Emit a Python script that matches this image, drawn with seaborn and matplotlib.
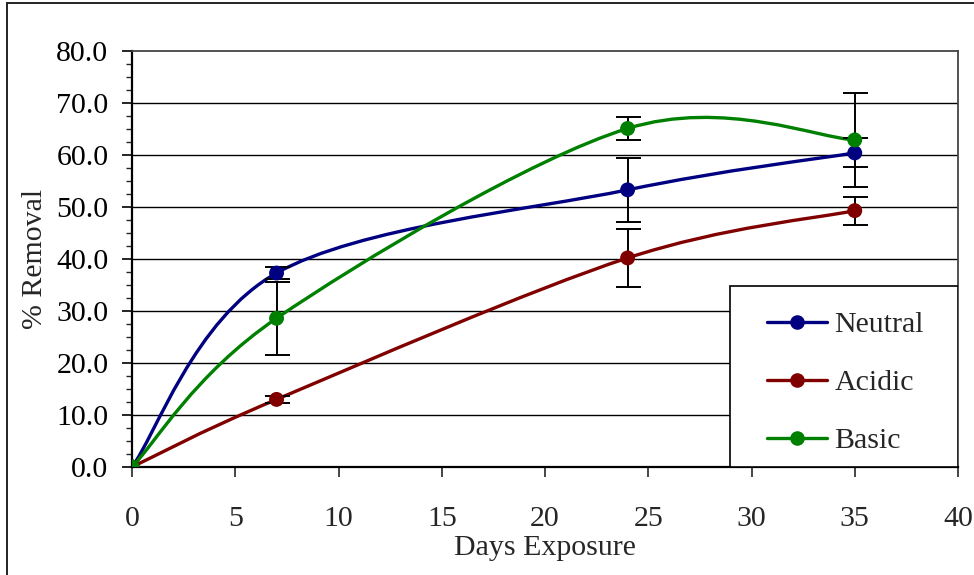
import matplotlib
matplotlib.use("Agg")
import matplotlib.pyplot as plt
from matplotlib.path import Path
from matplotlib.patches import PathPatch, Rectangle
from matplotlib.lines import Line2D
from matplotlib.ticker import MultipleLocator, FormatStrFormatter
import numpy as np
import pandas as pd
import seaborn as sns

# ---- data ----
days = [0, 7, 24, 35]
series_names = ["Neutral", "Acidic", "Basic"]
neutral = [0.0, 37.3, 53.3, 60.4]
acidic = [0.0, 13.0, 40.2, 49.3]
basic = [0.0, 28.6, 65.1, 62.9]
neutral_err = [0.0, 1.2, 6.1, 2.8]
acidic_err = [0.0, 0.6, 5.6, 2.7]
basic_err = [0.0, 7.0, 2.2, 9.0]
colors = ["#000080", "#800000", "#008000"]
x_ticks = [0, 5, 10, 15, 20, 25, 30, 35, 40]
y_ticks = [0, 10, 20, 30, 40, 50, 60, 70, 80]

values = [neutral, acidic, basic]
errors = [neutral_err, acidic_err, basic_err]

df = pd.DataFrame({
    "Days": days * 3,
    "Removal": neutral + acidic + basic,
    "Series": [n for n in series_names for _ in days],
})

FS = 21.5
sns.set_theme(style="white")
plt.rcParams["font.family"] = ["Liberation Serif", "DejaVu Serif"]
plt.rcParams["font.size"] = FS

W, H = 974, 575
fig = plt.figure(figsize=(W / 100, H / 100), dpi=100)
ax = fig.add_axes([132 / W, 1 - 467 / H, (958 - 132) / W, (467 - 51) / H])


def smooth_path(xs, ys):
    """Excel-style smoothed line: cubic Bezier segments through the data points."""
    pts = list(zip(xs, ys))
    n = len(pts)
    verts = [pts[0]]
    codes = [Path.MOVETO]
    for i in range(n - 1):
        p0 = pts[i - 1] if i > 0 else pts[i]
        p1 = pts[i]
        p2 = pts[i + 1]
        p3 = pts[i + 2] if i + 2 < n else pts[i + 1]
        c1 = (p1[0] + (p2[0] - p0[0]) / 6, p1[1] + (p2[1] - p0[1]) / 6)
        c2 = (p2[0] - (p3[0] - p1[0]) / 6, p2[1] - (p3[1] - p1[1]) / 6)
        verts += [c1, c2, p2]
        codes += [Path.CURVE4] * 3
    return Path(verts, codes)


# gridlines
for yv in y_ticks[1:-1]:
    ax.axhline(yv, color="black", lw=1.0, zorder=1)

# smoothed lines
for vals, col in zip(values, colors):
    ax.add_patch(PathPatch(smooth_path(days, vals), facecolor="none",
                           edgecolor=col, lw=2.4, zorder=2, capstyle="round"))

# error bars
for vals, err in zip(values, errors):
    ax.errorbar(days[1:], vals[1:], yerr=err[1:], fmt="none", ecolor="black",
                elinewidth=1.4, capsize=9, capthick=1.4, zorder=3)

# markers
sns.scatterplot(data=df, x="Days", y="Removal", hue="Series",
                palette=dict(zip(series_names, colors)), s=115, linewidth=0,
                legend=False, zorder=4, ax=ax)

ax.set_xlim(0, 40)
ax.set_ylim(0, 80)
ax.set_xticks(x_ticks)
ax.set_yticks(y_ticks)
ax.yaxis.set_major_formatter(FormatStrFormatter("%.1f"))
ax.yaxis.set_minor_locator(MultipleLocator(2.5))
ax.tick_params(axis="y", which="major", direction="out", length=7, width=1.2,
               pad=10, labelsize=FS, left=True, colors="black")
ax.tick_params(axis="y", which="minor", direction="out", length=4.5, width=1.0,
               left=True)
ax.tick_params(axis="x", which="major", direction="out", length=7, width=1.2,
               pad=21, labelsize=FS, bottom=True)
ax.set_xlabel("Days Exposure", fontsize=FS, labelpad=2)
ax.set_ylabel("% Removal", fontsize=FS, labelpad=5.5)

for side in ["left", "bottom"]:
    ax.spines[side].set_color("black")
    ax.spines[side].set_linewidth(1.6)
for side in ["top", "right"]:
    ax.spines[side].set_color("#444444")
    ax.spines[side].set_linewidth(1.3)
    ax.spines[side].set_visible(True)

# legend box
box = Rectangle((0.724, 0.0), 0.276, 0.435, transform=ax.transAxes,
                facecolor="white", edgecolor="black", lw=1.2, zorder=6)
ax.add_patch(box)
handles = [Line2D([], [], color=c, lw=2.4, marker="o", markersize=10.5,
                  markeredgewidth=0) for c in colors]
leg = ax.legend(handles, series_names, loc="center",
                bbox_to_anchor=(0.726, -0.015, 0.276, 0.435), frameon=False,
                fontsize=FS, handlelength=2.0, handletextpad=0.25,
                labelspacing=1.05, borderpad=0.3)
leg.set_zorder(7)

# outer chart border
fig.add_artist(Rectangle((7 / W, -0.05), 1.1, 1 - 3 / H + 0.05,
                         transform=fig.transFigure, facecolor="none",
                         edgecolor="#222222", lw=1.4))

fig.savefig("out.png", dpi=100)
